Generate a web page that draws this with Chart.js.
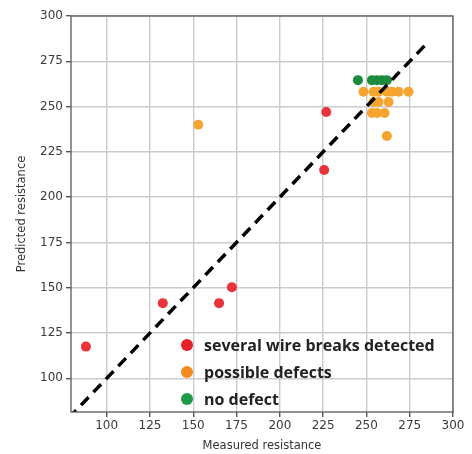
<!DOCTYPE html>
<html>
<head>
<meta charset="utf-8">
<script src="https://cdn.jsdelivr.net/npm/chart.js@4/dist/chart.umd.min.js"></script>
<style>
  body { margin: 0; background: #fff; }
</style>
</head>
<body>
<canvas id="myChart" width="472" height="454"></canvas>
<script>
// data
const redX = [88, 132.4, 164.9, 172.3, 225.6, 226.8];
const redY = [117.5, 141.5, 141.5, 150.3, 215, 247];

const orangeX = [152.9, 248.3, 254.1, 257, 261.8, 264.7, 268.6, 274.3, 254.1, 257, 262.8, 253.2, 256.1, 260.5, 261.8];
const orangeY = [240, 258.2, 258.2, 258.2, 258.2, 258.2, 258.2, 258.2, 252.5, 252.5, 252.5, 246.5, 246.5, 246.5, 233.8];

const greenX = [245.1, 253.2, 256.1, 259, 261.8];
const greenY = [264.6, 264.6, 264.6, 264.6, 264.6];

const idealLine = [78, 285];

const xTicks = [100, 125, 150, 175, 200, 225, 250, 275, 300];
const yTicks = [100, 125, 150, 175, 200, 225, 250, 275, 300];

const labels = ['several wire breaks detected', 'possible defects', 'no defect'];
const legendColors = ['#e8202a', '#f28a1e', '#1e9a48'];

function toPoints(xs, ys) {
    return xs.map((x, i) => ({ x: x, y: ys[i] }));
}

// frame on all four sides + legend inside the plot
const framePlugin = {
    id: 'frame',
    afterDraw(chart) {
        const { ctx, chartArea } = chart;
        ctx.save();
        ctx.strokeStyle = '#5a5a5a';
        ctx.lineWidth = 1.3;
        ctx.strokeRect(chartArea.left, chartArea.top, chartArea.right - chartArea.left, chartArea.bottom - chartArea.top);

        ctx.font = 'bold 16px "Open Sans"';
        ctx.textBaseline = 'middle';
        labels.forEach((label, i) => {
            const y = 345 + i * 27;
            ctx.fillStyle = legendColors[i];
            ctx.beginPath();
            ctx.arc(187, y, 6, 0, Math.PI * 2);
            ctx.fill();
            ctx.fillStyle = '#222';
            ctx.fillText(label, 204, y + 1);
        });
        ctx.restore();
    }
};

const ctx = document.getElementById('myChart').getContext('2d');
const myChart = new Chart(ctx, {
    type: 'scatter',
    data: {
        datasets: [
            {
                type: 'line',
                label: 'ideal',
                data: toPoints(idealLine, idealLine),
                borderColor: '#000',
                borderWidth: 3.5,
                borderDash: [11, 7],
                pointRadius: 0,
                order: 0
            },
            {
                label: labels[0],
                data: toPoints(redX, redY),
                backgroundColor: '#e9323a',
                borderWidth: 0,
                pointRadius: 5,
                order: 1
            },
            {
                label: labels[1],
                data: toPoints(orangeX, orangeY),
                backgroundColor: '#f4a42f',
                borderWidth: 0,
                pointRadius: 5,
                order: 1
            },
            {
                label: labels[2],
                data: toPoints(greenX, greenY),
                backgroundColor: '#1d8b3d',
                borderWidth: 0,
                pointRadius: 5,
                order: 1
            }
        ]
    },
    options: {
        responsive: false,
        animation: false,
        layout: { padding: { left: 0, right: 19, top: 16, bottom: 0 } },
        plugins: {
            legend: { display: false },
            tooltip: { enabled: false }
        },
        scales: {
            x: {
                type: 'linear',
                min: 79.4,
                max: 300,
                afterBuildTicks: (scale) => { scale.ticks = xTicks.map(v => ({ value: v })); },
                afterFit: (scale) => { scale.height = 42; },
                grid: { color: '#cbcbcb', lineWidth: 1.4, tickColor: '#555', tickLength: 5 },
                border: { display: false },
                ticks: { color: '#3a3a3a', font: { family: 'DejaVu Sans', size: 12 }, padding: 2, maxRotation: 0 },
                title: { display: true, text: 'Measured resistance', color: '#333', font: { family: 'DejaVu Sans', size: 11.5 }, padding: { top: 0, bottom: 1 } }
            },
            y: {
                type: 'linear',
                min: 81.4,
                max: 300,
                afterBuildTicks: (scale) => { scale.ticks = yTicks.map(v => ({ value: v })); },
                afterFit: (scale) => { scale.width = 71; },
                grid: { color: '#cbcbcb', lineWidth: 1.4, tickColor: '#555', tickLength: 5 },
                border: { display: false },
                ticks: { color: '#3a3a3a', font: { family: 'DejaVu Sans', size: 12 }, padding: 3 },
                title: { display: true, text: 'Predicted resistance', color: '#333', font: { family: 'DejaVu Sans', size: 11.5 }, padding: { top: 15, bottom: 0 } }
            }
        }
    },
    plugins: [framePlugin]
});
</script>
</body>
</html>
